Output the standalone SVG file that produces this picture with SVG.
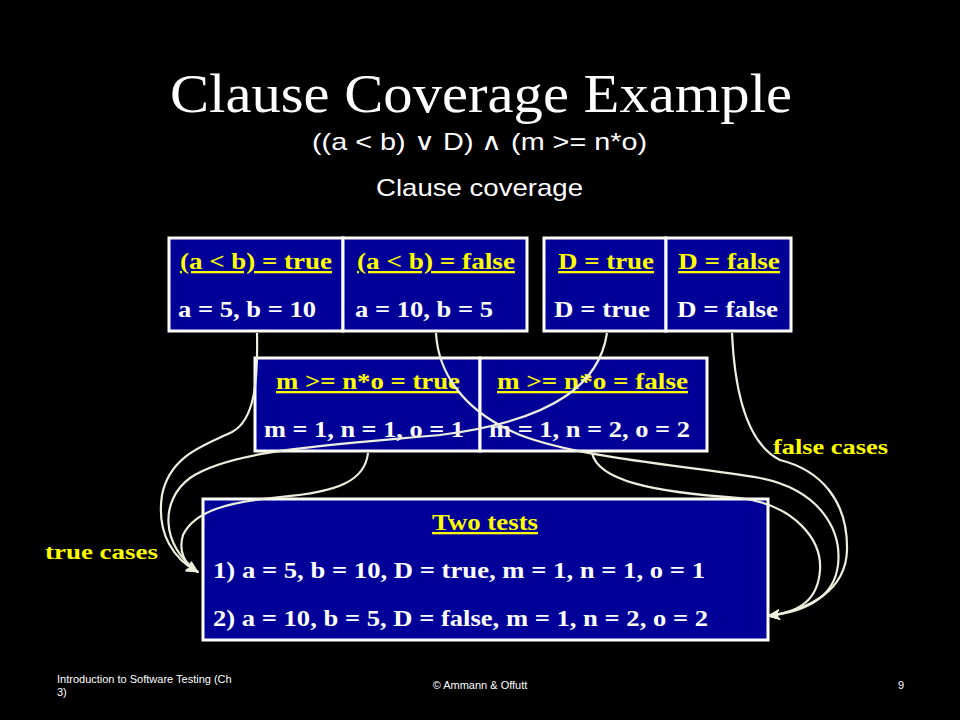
<svg xmlns="http://www.w3.org/2000/svg" width="960" height="720" viewBox="0 0 960 720">
<defs>
<style>
.bg{fill:#000}
.box{fill:#000099;stroke:#fff;stroke-width:3}
.hd{font-family:"Liberation Serif","Times New Roman",serif;font-weight:bold;font-size:23px;fill:#ffff00;text-decoration:underline}
.vl{font-family:"Liberation Serif","Times New Roman",serif;font-weight:bold;font-size:23px;fill:#fff}
.lbl{font-family:"Liberation Serif","Times New Roman",serif;font-weight:bold;font-size:21px;fill:#ffff00}
.title{font-family:"Liberation Serif","Times New Roman",serif;font-size:54px;fill:#fff}
.sub{font-family:"Liberation Sans",Arial,sans-serif;font-size:24px;fill:#fff}
.foot{font-family:"Liberation Sans",Arial,sans-serif;font-size:11px;fill:#fff}
.con{fill:none;stroke:#eeeedd;stroke-width:2.2;marker-end:url(#ah)}
</style>
<marker id="ah" viewBox="0 0 12 10" refX="11" refY="5" markerWidth="6" markerHeight="5" orient="auto" markerUnits="strokeWidth">
<path d="M0,0 L12,5 L0,10 L3,5 Z" fill="#eeeedd"/>
</marker>
</defs>
<rect class="bg" x="0" y="0" width="960" height="720"/>
<g id="title">
<text class="title" x="170" y="112" textLength="622" lengthAdjust="spacingAndGlyphs">Clause Coverage Example</text>
<text class="sub" x="312" y="150" textLength="335" lengthAdjust="spacingAndGlyphs">((a &lt; b) ∨ D) ∧ (m &gt;= n*o)</text>
<text class="sub" x="376" y="196" textLength="207" lengthAdjust="spacingAndGlyphs">Clause coverage</text>
</g>
<g id="node-ab-true">
<rect class="box" x="169" y="238" width="174" height="93"/>
<text class="hd" x="180" y="269" textLength="152" lengthAdjust="spacingAndGlyphs">(a &lt; b) = true</text>
<text class="vl" x="178" y="317" textLength="138" lengthAdjust="spacingAndGlyphs">a = 5, b = 10</text>
</g>
<g id="node-ab-false">
<rect class="box" x="343" y="238" width="184" height="93"/>
<text class="hd" x="357" y="269" textLength="158" lengthAdjust="spacingAndGlyphs">(a &lt; b) = false</text>
<text class="vl" x="355" y="317" textLength="138" lengthAdjust="spacingAndGlyphs">a = 10, b = 5</text>
</g>
<g id="node-d-true">
<rect class="box" x="544" y="238" width="122" height="93"/>
<text class="hd" x="558" y="269" textLength="96" lengthAdjust="spacingAndGlyphs">D = true</text>
<text class="vl" x="554" y="317" textLength="96" lengthAdjust="spacingAndGlyphs">D = true</text>
</g>
<g id="node-d-false">
<rect class="box" x="666" y="238" width="125" height="93"/>
<text class="hd" x="678" y="269" textLength="102" lengthAdjust="spacingAndGlyphs">D = false</text>
<text class="vl" x="677" y="317" textLength="101" lengthAdjust="spacingAndGlyphs">D = false</text>
</g>
<g id="node-m-true">
<rect class="box" x="255" y="358" width="225" height="93"/>
<text class="hd" x="276" y="389" textLength="184" lengthAdjust="spacingAndGlyphs">m &gt;= n*o = true</text>
<text class="vl" x="264" y="437" textLength="200" lengthAdjust="spacingAndGlyphs">m = 1, n = 1, o = 1</text>
</g>
<g id="node-m-false">
<rect class="box" x="480" y="358" width="227" height="93"/>
<text class="hd" x="497" y="389" textLength="191" lengthAdjust="spacingAndGlyphs">m &gt;= n*o = false</text>
<text class="vl" x="489" y="437" textLength="201" lengthAdjust="spacingAndGlyphs">m = 1, n = 2, o = 2</text>
</g>
<g id="node-tests">
<rect class="box" x="203" y="499" width="565" height="141"/>
<text class="hd" x="432" y="530" textLength="106" lengthAdjust="spacingAndGlyphs">Two tests</text>
<text class="vl" x="213" y="578" textLength="492" lengthAdjust="spacingAndGlyphs">1) a = 5, b = 10, D = true, m = 1, n = 1, o = 1</text>
<text class="vl" x="213" y="626" textLength="495" lengthAdjust="spacingAndGlyphs">2) a = 10, b = 5, D = false, m = 1, n = 2, o = 2</text>
</g>
<g id="connectors">
<path class="con" d="M257,333 C258,380 255,420 232,432 C205,445 170,455 162,495 C156,535 175,560 198,572"/>
<path class="con" d="M607,333 C600,380 560,420 440,435 C330,445 230,450 190,478 C160,500 160,545 198,572"/>
<path class="con" d="M368,453 C365,480 340,492 280,497 C230,502 195,510 183,535 C178,552 185,565 198,572"/>
<path class="con" d="M436,333 C438,370 460,410 520,435 C580,458 680,465 760,478 C820,490 842,530 838,565 C834,598 805,612 768,616"/>
<path class="con" d="M592,453 C598,480 650,492 740,498 C795,505 822,540 820,570 C818,600 800,612 768,616"/>
<path class="con" d="M732,333 C735,400 750,445 780,460 C820,470 848,500 847,550 C846,590 810,610 768,616"/>
</g>
<g id="labels">
<text class="lbl" x="45" y="559" textLength="113" lengthAdjust="spacingAndGlyphs">true cases</text>
<text class="lbl" x="773" y="454" textLength="115" lengthAdjust="spacingAndGlyphs">false cases</text>
</g>
<g id="footer">
<text class="foot" x="57" y="683">Introduction to Software Testing  (Ch</text>
<text class="foot" x="57" y="696">3)</text>
<text class="foot" x="480" y="689" text-anchor="middle">© Ammann &amp; Offutt</text>
<text class="foot" x="898" y="689">9</text>
</g>
</svg>
